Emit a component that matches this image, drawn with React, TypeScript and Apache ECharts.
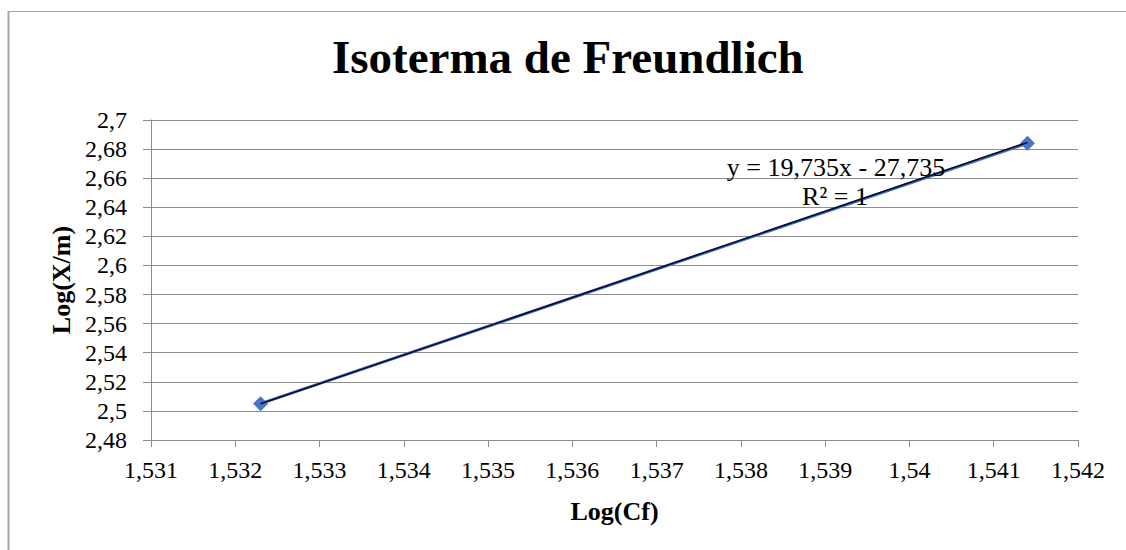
import React, { useEffect, useRef } from "react";
import * as echarts from "echarts";

const titleText = "Isoterma de Freundlich";
const xAxisName = "Log(Cf)";
const yAxisName = "Log(X/m)";
const logCf = [1.5323, 1.5414];
const logXm = [2.505, 2.684];
const trendSlope = 19.735;
const trendIntercept = -27.735;
const trendEquation = "y = 19,735x - 27,735";
const trendR2 = "R² = 1";

const xMin = 1.531, xMax = 1.542, xStep = 0.001;
const yMin = 2.48, yMax = 2.7, yStep = 0.02;

const FONT = "Liberation Serif";

const fmt = (v: number) => {
  const s = String(parseFloat(v.toFixed(4)));
  return s.replace(".", ",");
};

export default function App() {
  const ref = useRef<HTMLDivElement>(null);
  useEffect(() => {
    if (!ref.current) return;
    const chart = echarts.init(ref.current, null, { renderer: "svg" });
    const points = logCf.map((x, i) => [x, logXm[i]]);
    const trend = logCf.map((x) => [x, trendSlope * x + trendIntercept]);
    chart.setOption({
      animation: false,
      backgroundColor: "#ffffff",
      title: {
        text: titleText,
        left: 327,
        top: 28,
        textStyle: { fontFamily: FONT, fontSize: 47, fontWeight: "bold", color: "#000" },
      },
      grid: { left: 151, right: 48, top: 120, bottom: 110, containLabel: false },
      xAxis: {
        type: "value",
        min: xMin,
        max: xMax,
        interval: xStep,
        name: xAxisName,
        nameLocation: "middle",
        nameGap: 58,
        nameTextStyle: { fontFamily: FONT, fontSize: 26, fontWeight: "bold", color: "#000" },
        axisLine: { show: true, onZero: false, lineStyle: { color: "#8c8c8c", width: 1 } },
        axisTick: { show: true, inside: false, length: 7, lineStyle: { color: "#8c8c8c" } },
        axisLabel: { fontFamily: FONT, fontSize: 24, color: "#000", margin: 18, formatter: fmt },
        splitLine: { show: false },
      },
      yAxis: {
        type: "value",
        min: yMin,
        max: yMax,
        interval: yStep,
        name: yAxisName,
        nameLocation: "middle",
        nameGap: 76,
        nameRotate: 90,
        nameTextStyle: { fontFamily: FONT, fontSize: 26, fontWeight: "bold", color: "#000" },
        axisLine: { show: true, lineStyle: { color: "#8c8c8c", width: 1 } },
        axisTick: { show: true, inside: false, length: 8, lineStyle: { color: "#8c8c8c" } },
        axisLabel: { fontFamily: FONT, fontSize: 24, color: "#000", margin: 24, formatter: fmt },
        splitLine: { show: true, lineStyle: { color: "#8c8c8c", width: 1 } },
      },
      series: [
        {
          type: "line",
          data: points,
          symbol: "diamond",
          symbolSize: 15,
          itemStyle: { color: "#4675C6" },
          lineStyle: { color: "#4675C6", width: 3 },
          z: 2,
        },
        {
          type: "line",
          data: trend,
          symbol: "none",
          lineStyle: { color: "#0b0b2a", width: 1.6 },
          z: 3,
        },
      ],
      graphic: [
        {
          type: "line",
          shape: { x1: 8.5, y1: 11, x2: 8.5, y2: 550 },
          style: { stroke: "#a6a6a6", lineWidth: 2 },
        },
        {
          type: "line",
          shape: { x1: 8, y1: 11.5, x2: 1126, y2: 11.5 },
          style: { stroke: "#a6a6a6", lineWidth: 1 },
        },
        {
          type: "text",
          x: 836,
          y: 167,
          z: 10,
          style: {
            text: trendEquation,
            fontFamily: FONT,
            fontSize: 26,
            fill: "#000",
            align: "center",
            verticalAlign: "middle",
          },
        },
        {
          type: "text",
          x: 835,
          y: 196,
          z: 10,
          style: {
            text: trendR2,
            fontFamily: FONT,
            fontSize: 26,
            fill: "#000",
            align: "center",
            verticalAlign: "middle",
          },
        },
      ],
    });
    return () => chart.dispose();
  }, []);
  return (
    <div
      ref={ref}
      style={{ position: "fixed", left: 0, top: 0, width: 1126, height: 550 }}
    />
  );
}
